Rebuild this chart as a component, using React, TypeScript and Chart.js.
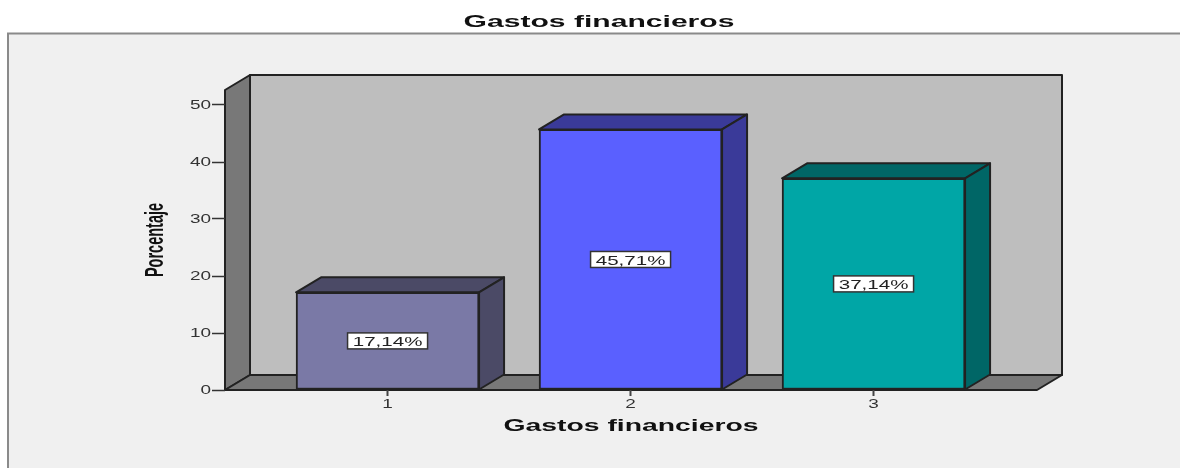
import React, { useEffect, useRef } from "react";
import { Chart, registerables } from "chart.js";

Chart.register(...registerables);

const chartTitle = "Gastos financieros";
const xTitle = "Gastos financieros";
const yTitle = "Porcentaje";
const categories = [1, 2, 3];
const percentages = [17.14, 45.71, 37.14];
const valueLabels = ["17,14%", "45,71%", "37,14%"];
const yTickValues = [0, 10, 20, 30, 40, 50];
const frontColors = ["#7a79a6", "#5a60ff", "#00a6a6"];
const sideColors = ["#4b4a66", "#3a3a99", "#006666"];

const FONT = "'Liberation Sans', Arial, sans-serif";
const INK = "#222222";
const DX = 25;
const DY = 15;

function poly(ctx: CanvasRenderingContext2D, pts: number[][], fill: string) {
  ctx.beginPath();
  pts.forEach(([x, y], i) => (i ? ctx.lineTo(x, y) : ctx.moveTo(x, y)));
  ctx.closePath();
  ctx.fillStyle = fill;
  ctx.fill();
  ctx.lineWidth = 2;
  ctx.strokeStyle = INK;
  ctx.lineJoin = "round";
  ctx.stroke();
}

const sceneryPlugin = {
  id: "scenery",
  afterLayout(chart: any) {
    // centre the main title over the framed panel
    if (chart.titleBlock) {
      chart.titleBlock.left = 18;
      chart.titleBlock.right = 1180;
    }
  },
  beforeDraw(chart: any) {
    const ctx = chart.ctx as any;
    if (!ctx.__stretched) {
      ctx.__stretched = true;
      const orig = ctx.fillText.bind(ctx);
      ctx.fillText = (t: string, x: number, y: number) => {
        const bold = ctx.font.includes("bold");
        const sx = t === yTitle ? 0.58 : bold ? 1.77 : 1.58;
        ctx.save();
        ctx.translate(x, y + (bold ? 0 : 1));
        ctx.scale(sx, 1);
        orig(t, 0, 0);
        ctx.restore();
      };
    }
    const { width, height, chartArea: a } = chart;
    ctx.save();
    ctx.fillStyle = "#ffffff";
    ctx.fillRect(0, 0, width, height);
    ctx.fillStyle = "#f0f0f0";
    ctx.fillRect(7, 33, width - 7, height - 33);
    ctx.strokeStyle = "#8a8a8a";
    ctx.lineWidth = 2;
    ctx.beginPath();
    ctx.moveTo(8, height);
    ctx.lineTo(8, 33.5);
    ctx.lineTo(width, 33.5);
    ctx.stroke();

    const { left: l, right: r, top: t, bottom: b } = a;
    poly(ctx, [[l + DX, t - DY], [r + DX, t - DY], [r + DX, b - DY], [l + DX, b - DY]], "#bebebe");
    poly(ctx, [[l, t], [l + DX, t - DY], [l + DX, b - DY], [l, b]], "#787878");
    poly(ctx, [[l, b], [l + DX, b - DY], [r + DX, b - DY], [r, b]], "#787878");
    ctx.restore();
  },
  beforeDatasetsDraw(chart: any) {
    const ctx = chart.ctx;
    ctx.save();
    chart.getDatasetMeta(0).data.forEach((el: any, i: number) => {
      const { x, y, base, width } = el.getProps(["x", "y", "base", "width"], true);
      const l = x - width / 2;
      const r = x + width / 2;
      poly(ctx, [[l, y], [l + DX, y - DY], [r + DX, y - DY], [r, y]], sideColors[i]);
      poly(ctx, [[r, y], [r + DX, y - DY], [r + DX, base - DY], [r, base]], sideColors[i]);
    });
    ctx.restore();
  },
  afterDatasetsDraw(chart: any) {
    const ctx = chart.ctx;
    ctx.save();
    chart.getDatasetMeta(0).data.forEach((el: any, i: number) => {
      const { x, y, base } = el.getProps(["x", "y", "base"], true);
      const cy = (y + base) / 2;
      ctx.fillStyle = "#ffffff";
      ctx.fillRect(x - 40, cy - 8, 80, 16);
      ctx.strokeStyle = "#333333";
      ctx.lineWidth = 1.5;
      ctx.strokeRect(x - 40, cy - 8, 80, 16);
      ctx.fillStyle = INK;
      ctx.font = `13px ${FONT}`;
      ctx.textAlign = "center";
      ctx.textBaseline = "middle";
      ctx.fillText(valueLabels[i], x, cy + 0.5);
    });
    ctx.restore();
  },
};

export default function App() {
  const ref = useRef<HTMLCanvasElement>(null);
  useEffect(() => {
    const chart = new Chart(ref.current!, {
      type: "bar",
      data: {
        datasets: [
          {
            data: categories.map((c, i) => ({ x: c, y: percentages[i] })),
            backgroundColor: frontColors,
            borderColor: INK,
            borderWidth: 2,
            borderSkipped: false,
            barThickness: 183,
          },
        ],
      },
      plugins: [sceneryPlugin],
      options: {
        animation: false,
        responsive: false,
        layout: { padding: { left: 18, right: 143, top: 0, bottom: 18 } },
        plugins: {
          legend: { display: false },
          tooltip: { enabled: false },
          title: {
            display: true,
            text: chartTitle,
            color: "#111111",
            font: { family: FONT, size: 17, weight: "bold", lineHeight: 1.2 },
            padding: { top: 12, bottom: 57.6 },
          },
        },
        scales: {
          x: {
            type: "linear",
            offset: false,
            min: 0.331,
            max: 0.331 + 812 / 243,
            afterBuildTicks: (s: any) => {
              s.ticks = categories.map((value) => ({ value }));
            },
            afterFit: (s: any) => {
              s.height = 60;
            },
            grid: { offset: false, drawOnChartArea: false, tickLength: 6, tickColor: "#444444", tickWidth: 2 },
            border: { display: false },
            ticks: {
              color: "#333333",
              padding: 0,
              maxRotation: 0,
              font: { family: FONT, size: 12 },
              callback: (v: any) => String(v),
            },
            title: {
              display: true,
              text: xTitle,
              color: "#111111",
              font: { family: FONT, size: 16, weight: "bold", lineHeight: 1.2 },
              padding: { top: 0, bottom: 14 },
            },
          },
          y: {
            min: 0,
            max: 300 / 5.7,
            afterBuildTicks: (s: any) => {
              s.ticks = yTickValues.map((value) => ({ value }));
            },
            afterFit: (s: any) => {
              s.width = 207;
            },
            grid: { drawOnChartArea: false, tickLength: 13, tickColor: "#333333", tickWidth: 1.5 },
            border: { display: false },
            ticks: {
              color: "#333333",
              padding: 1,
              font: { family: FONT, size: 12 },
            },
            title: {
              display: true,
              text: yTitle,
              color: "#111111",
              font: { family: FONT, size: 25, weight: "bold", lineHeight: 1.2 },
              padding: { top: 123, bottom: 0 },
            },
          },
        },
      },
    } as any);
    return () => chart.destroy();
  }, []);
  return (
    <div style={{ position: "fixed", left: 0, top: 0, width: 1180, height: 468 }}>
      <canvas ref={ref} width={1180} height={468} style={{ display: "block" }} />
    </div>
  );
}
